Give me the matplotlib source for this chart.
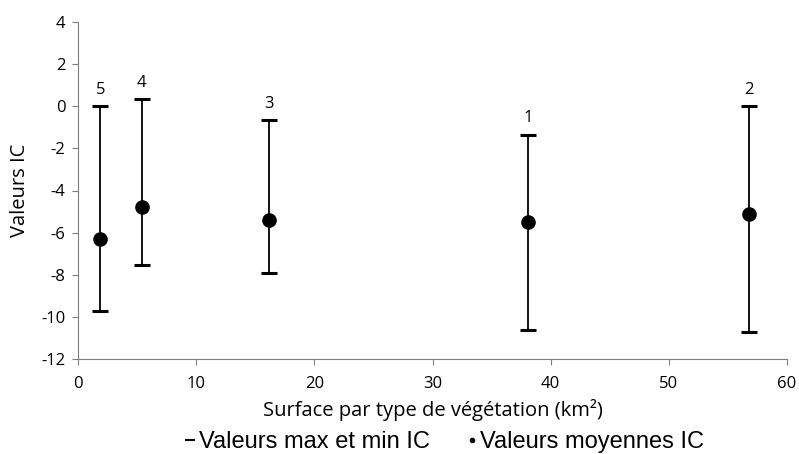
import matplotlib.pyplot as plt
from matplotlib.lines import Line2D

surface = [1.9, 5.4, 16.2, 38.1, 56.8]
ic_mean = [-6.3, -4.8, -5.4, -5.5, -5.1]
ic_max = [0.0, 0.33, -0.67, -1.35, 0.0]
ic_min = [-9.7, -7.55, -7.9, -10.6, -10.7]
labels = ['5', '4', '3', '1', '2']

plt.rcParams['font.family'] = ['Open Sans', 'DejaVu Sans']
plt.rcParams['axes.unicode_minus'] = False

fig = plt.figure(figsize=(7.99, 4.54), dpi=100)
ax = fig.add_axes([78 / 799, 1 - 359 / 454, (787 - 78) / 799, (359 - 22) / 454])

err_low = [m - lo for m, lo in zip(ic_mean, ic_min)]
err_high = [hi - m for m, hi in zip(ic_mean, ic_max)]
ax.errorbar(surface, ic_mean, yerr=[err_low, err_high], fmt='o', color='black',
            markersize=9.5, ecolor='black', elinewidth=1.3, capsize=5.5, capthick=2.2)

for x, hi, lab in zip(surface, ic_max, labels):
    ax.annotate(lab, (x, hi), xytext=(0, 6), textcoords='offset points',
                ha='center', va='bottom', fontsize=12)

ax.set_xlim(0, 60)
ax.set_ylim(-12, 4)
ax.set_xticks(range(0, 61, 10))
ax.set_yticks(range(-12, 5, 2))
for s in ['top', 'right']:
    ax.spines[s].set_visible(False)
for s in ['left', 'bottom']:
    ax.spines[s].set_color('#7f7f7f')
ax.tick_params(direction='out', length=4, color='#7f7f7f', labelsize=12, pad=5)
ax.tick_params(axis='x', pad=8)
ax.set_xlabel('Surface par type de végétation (km²)', fontsize=14.5)
ax.xaxis.set_label_coords(0.5, (359 - 410) / 337)
ax.xaxis.label.set_va('center')
ax.set_ylabel('Valeurs IC', fontsize=14.5)
ax.yaxis.set_label_coords((20 - 78) / 709, 0.5)
ax.yaxis.label.set_va('center')

handles = [Line2D([], [], color='black', marker='_', linestyle='none', markersize=7, markeredgewidth=1.5),
           Line2D([], [], color='black', marker='.', linestyle='none', markersize=6)]
fig.legend(handles, ['Valeurs max et min IC', 'Valeurs moyennes IC'],
           loc='center', bbox_to_anchor=(445 / 799, 1 - 442 / 454), ncol=2, frameon=False,
           handlelength=0.4, handletextpad=0.15, columnspacing=1.6,
           prop={'family': 'Liberation Sans', 'size': 17})

fig.savefig('out.png', dpi=100)
